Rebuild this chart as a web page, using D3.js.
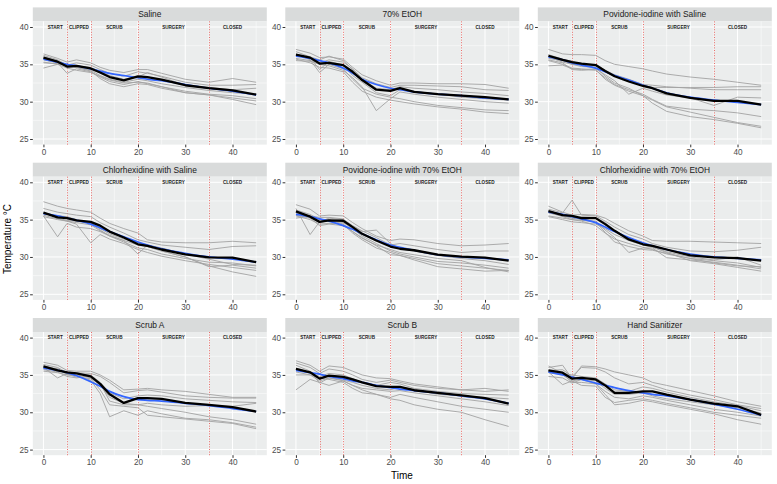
<!DOCTYPE html>
<html><head><meta charset="utf-8">
<script src="https://cdn.jsdelivr.net/npm/d3@7"></script>
<style>body{margin:0;background:#fff}svg{display:block;font-family:"Liberation Sans",Arial,sans-serif}</style>
</head><body><svg id="c" width="777" height="484"></svg>
<script>
// ---------- data ----------
const panelTitles = ["Saline","70% EtOH","Povidone-iodine with Saline",
  "Chlorhexidine with Saline","Povidone-iodine with 70% EtOH","Chlorhexidine with 70% EtOH",
  "Scrub A","Scrub B","Hand Sanitizer"];
const times = [0,3,5,7,10,12,14,17,20,22,25,30,35,40,45];
const xTicks = [0,10,20,30,40];
const yTicks = [25,30,35,40];
const phaseBreaks = [5,10,20,35];
const phaseNames = ["START","CLIPPED","SCRUB","SURGERY","CLOSED"];
const phaseCenters = [2.5,7.5,15,27.5,40];

const salineMean   = [35.9,35.35,34.7,34.8,34.45,33.9,33.3,32.85,33.4,33.3,32.95,32.2,31.8,31.5,30.95];
const salineSmooth = [35.7,35.3,35.0,34.8,34.4,34.1,33.8,33.5,33.2,33.0,32.8,32.3,31.8,31.4,30.9];
const salineSubjects = [
 [36.4,35.8,35.3,35.6,35.2,34.6,34.2,33.9,34.3,34.3,33.8,33.0,32.6,33.1,32.6],
 [36.2,35.6,34.9,35.2,34.9,34.3,33.8,33.4,34.0,33.8,33.4,32.6,32.2,32.2,32.3],
 [35.2,35.1,34.8,34.8,34.6,34.0,33.5,33.0,33.3,33.9,33.3,32.2,31.9,31.6,31.8],
 [34.5,35.0,34.9,34.6,34.2,33.5,33.0,32.6,33.0,32.8,32.4,31.9,31.5,31.2,31.0],
 [35.6,35.2,33.8,34.4,34.0,33.3,32.7,32.3,32.7,32.4,32.0,31.4,31.0,30.8,30.4],
 [36.0,35.4,34.6,34.6,34.1,33.1,32.4,32.0,32.4,32.3,31.8,31.2,30.9,30.5,30.1],
 [35.3,35.0,34.5,34.2,33.9,33.4,32.9,32.5,32.6,32.5,32.0,31.2,30.9,30.3,29.6]];

const etohMean   = [36.3,35.9,35.1,35.2,34.9,34.0,32.9,31.6,31.45,31.8,31.3,31.0,30.8,30.6,30.3];
const etohSmooth = [36.1,35.8,35.5,35.2,34.5,33.8,33.0,32.3,31.8,31.6,31.3,31.0,30.8,30.5,30.3];
const etohSubjects = [
 [37.0,36.5,35.9,36.0,35.7,34.6,33.6,32.8,32.2,32.5,32.5,32.4,32.4,32.3,31.8],
 [36.7,36.0,35.6,36.1,35.5,34.3,33.2,32.4,31.9,32.2,32.2,32.1,32.0,31.6,31.5],
 [35.8,35.5,35.2,35.6,35.3,34.4,33.0,31.8,31.6,32.0,31.8,31.6,31.3,31.1,30.8],
 [36.3,35.9,34.3,35.4,34.9,33.5,32.6,31.2,30.8,31.6,31.4,31.0,30.6,30.4,30.2],
 [35.5,35.4,35.0,34.8,34.2,33.2,32.0,28.8,30.4,31.3,31.0,30.6,30.3,30.0,29.8],
 [36.4,35.6,33.9,35.0,34.4,33.0,31.8,31.0,30.6,30.4,30.0,29.5,29.2,28.9,28.8],
 [35.7,35.2,34.6,34.5,34.0,32.6,31.4,30.6,30.2,30.0,29.7,29.3,29.0,28.6,28.4]];

const pviSalMean   = [36.15,35.6,35.3,35.1,34.9,34.1,33.4,32.7,32.1,31.8,31.1,30.5,30.1,30.1,29.6];
const pviSalSmooth = [36.0,35.6,35.2,34.9,34.5,34.0,33.5,32.9,32.2,31.8,31.2,30.6,30.2,29.9,29.6];
const pviSalSubjects = [
 [37.0,36.4,36.3,36.3,36.2,35.5,35.0,34.7,34.4,34.1,33.7,33.3,33.0,32.6,32.2],
 [36.3,35.7,35.4,35.0,34.8,34.0,33.5,32.9,32.2,31.9,31.9,31.9,31.9,32.0,32.0],
 [35.8,35.5,35.0,35.0,35.0,34.2,33.6,33.0,32.3,32.2,32.0,31.8,31.6,31.6,31.6],
 [34.8,34.9,34.4,34.3,34.4,33.6,32.8,31.0,31.8,31.4,30.9,30.5,29.5,30.6,30.5],
 [35.5,35.0,34.5,34.4,34.2,33.2,32.3,31.6,31.0,30.3,29.4,29.0,28.8,28.5,28.0],
 [36.0,35.3,35.0,34.7,34.6,33.4,32.5,31.8,30.8,29.8,28.7,28.0,27.6,27.1,26.5],
 [35.6,35.2,34.3,34.2,34.3,33.0,32.2,31.4,30.8,30.2,29.3,28.6,27.9,27.2,26.7]];

const chxSalMean   = [35.95,35.3,35.2,34.9,34.7,34.2,33.4,32.6,31.7,31.5,31.0,30.35,29.95,29.9,29.3];
const chxSalSmooth = [35.8,35.5,35.2,34.9,34.4,33.9,33.4,32.7,32.0,31.6,31.1,30.5,30.0,29.7,29.3];
const chxSalSubjects = [
 [37.4,36.8,36.5,36.3,36.0,35.2,34.5,33.8,33.2,32.3,32.0,31.9,31.9,32.1,31.9],
 [36.5,36.0,35.8,35.6,35.4,34.6,34.0,33.2,32.3,32.0,31.6,31.3,31.0,31.4,31.5],
 [35.5,32.7,34.5,34.0,33.8,33.4,32.8,32.0,31.2,31.0,30.4,29.8,29.3,29.2,28.8],
 [35.8,35.5,35.4,35.0,34.5,33.6,32.8,32.2,31.6,31.4,30.8,30.0,28.7,28.9,28.5],
 [35.4,35.0,34.8,34.4,31.9,33.0,32.4,31.8,31.0,30.6,30.1,29.5,29.0,28.6,28.2],
 [36.0,35.2,34.9,34.8,34.6,33.8,33.1,32.4,31.9,31.4,30.8,30.0,28.8,28.0,27.4],
 [35.6,35.1,34.8,34.6,34.3,33.5,32.9,32.2,30.4,31.6,31.2,30.4,29.7,29.0,28.9]];

const pviEtohMean   = [36.1,35.4,34.7,34.9,34.85,34.0,33.1,32.2,31.4,31.1,30.9,30.3,30.05,29.9,29.5];
const pviEtohSmooth = [35.7,35.4,35.1,34.8,34.2,33.7,33.1,32.3,31.6,31.3,30.9,30.3,30.0,29.8,29.6];
const pviEtohSubjects = [
 [37.0,36.4,35.5,35.6,35.5,34.6,33.8,32.8,32.2,32.4,32.3,31.8,31.5,31.6,31.8],
 [36.5,33.0,34.7,35.2,35.0,34.2,33.5,32.6,31.6,31.8,31.5,31.0,30.6,30.8,30.8],
 [35.2,35.5,35.3,35.3,35.1,34.1,33.4,33.6,31.8,31.1,30.8,30.2,29.8,29.5,29.0],
 [35.9,35.3,34.6,34.9,34.6,33.8,32.8,31.8,30.8,30.4,30.0,29.4,29.2,28.9,28.5],
 [35.5,35.0,34.4,34.5,34.4,33.4,32.6,31.5,30.3,30.2,29.8,29.1,28.8,28.5,28.2],
 [36.3,35.7,35.0,35.0,34.4,33.2,32.3,31.2,30.6,30.2,29.6,28.7,28.4,28.1,28.2],
 [35.6,35.2,34.2,34.4,34.2,33.4,32.5,31.6,31.0,30.6,30.3,29.8,29.5,28.6,28.0]];

const chxEtohMean   = [36.15,35.6,35.5,35.2,35.2,34.4,33.5,32.35,31.7,31.5,31.0,30.2,29.95,29.85,29.5];
const chxEtohSmooth = [36.0,35.7,35.4,35.1,34.6,34.0,33.4,32.6,31.9,31.5,31.0,30.4,30.0,29.8,29.6];
const chxEtohSubjects = [
 [36.8,36.0,35.6,35.7,35.6,35.2,34.5,33.5,32.8,32.2,32.1,32.1,32.0,31.9,31.8],
 [36.4,35.9,37.6,35.6,35.5,34.8,34.0,33.0,32.4,31.8,31.3,30.8,30.7,30.9,31.3],
 [35.9,35.5,35.2,35.4,35.3,34.6,33.6,32.4,31.6,31.4,30.7,30.0,29.6,30.0,28.9],
 [35.5,35.2,35.0,34.9,34.7,33.3,32.0,31.4,31.0,30.9,30.5,29.8,29.5,29.2,28.6],
 [36.2,35.6,35.2,35.0,34.8,33.6,32.6,30.6,31.2,31.2,29.9,29.6,29.3,28.9,28.4],
 [35.4,35.0,34.7,34.6,34.4,33.8,33.0,32.2,31.6,31.3,30.6,29.5,29.1,28.6,28.1],
 [36.0,35.4,35.0,34.8,34.2,33.2,32.4,31.8,31.3,31.0,30.4,29.8,29.2,28.8,28.7]];

const scrubAMean   = [36.15,35.6,35.35,35.2,34.8,33.8,32.4,31.25,31.9,31.9,31.8,31.25,31.0,30.7,30.1];
const scrubASmooth = [35.9,35.6,35.3,34.9,34.1,33.5,32.8,32.1,31.7,31.6,31.5,31.2,30.9,30.5,30.1];
const scrubASubjects = [
 [36.7,36.3,35.6,35.5,35.5,35.0,34.3,33.0,33.1,33.2,33.0,32.8,32.4,32.0,32.0],
 [36.4,36.0,35.3,35.3,35.2,34.8,34.0,32.6,32.9,33.0,32.7,32.2,32.0,31.9,31.9],
 [35.8,35.9,35.0,35.2,35.0,34.0,32.6,31.8,32.2,32.3,32.2,31.8,31.6,31.4,31.3],
 [36.0,34.6,35.2,35.0,34.6,33.6,32.0,31.2,31.0,30.8,30.5,30.0,29.4,29.0,28.4],
 [35.5,35.3,35.0,34.9,34.3,32.5,29.4,30.2,29.6,30.2,29.8,29.2,29.0,28.6,28.0],
 [36.2,35.8,35.1,34.7,34.5,33.0,31.0,30.8,30.6,29.6,29.4,29.1,28.8,28.5,27.8],
 [35.7,35.4,34.8,34.6,34.9,33.9,31.5,31.0,31.0,31.2,31.0,30.8,30.9,30.8,31.2]];

const scrubBMean   = [35.8,35.35,34.5,34.9,34.75,34.4,34.0,33.5,33.4,33.4,32.95,32.6,32.25,31.9,31.15];
const scrubBSmooth = [35.6,35.3,35.1,34.8,34.5,34.2,34.0,33.6,33.3,33.1,32.9,32.6,32.2,31.8,31.2];
const scrubBSubjects = [
 [36.9,36.3,35.5,36.2,36.0,35.5,35.0,34.6,34.5,34.2,33.8,33.4,33.0,33.2,32.8],
 [36.6,36.0,35.2,35.8,35.5,35.0,34.4,34.0,34.3,34.0,33.6,33.2,33.0,32.8,33.0],
 [35.9,35.3,34.8,35.2,35.0,34.5,34.0,33.6,34.0,33.8,33.2,32.8,32.5,32.4,32.3],
 [35.0,35.0,34.2,34.6,34.3,34.0,33.6,33.2,33.0,33.4,33.0,32.4,32.2,32.0,31.8],
 [33.0,34.4,34.0,33.6,34.2,33.6,33.2,33.0,32.8,32.9,32.6,32.2,31.8,31.4,30.9],
 [35.4,35.0,34.6,34.4,34.0,33.2,32.6,32.4,32.0,32.4,32.0,31.4,30.8,30.4,30.0],
 [36.3,35.5,33.9,34.6,34.2,33.6,33.0,32.4,31.8,31.6,31.0,30.4,30.0,29.0,28.1]];

const handMean   = [35.6,35.3,34.5,34.6,34.4,33.6,32.6,32.6,32.8,32.8,32.35,31.7,31.15,30.8,29.65];
const handSmooth = [35.4,35.0,34.7,34.4,33.9,33.6,33.3,32.9,32.6,32.4,32.2,31.7,31.1,30.4,29.6];
const handSubjects = [
 [36.0,36.3,34.5,36.2,36.1,35.8,35.4,35.0,34.6,34.0,33.6,32.9,32.2,31.4,30.8],
 [35.6,35.7,34.8,36.0,35.9,35.4,34.6,33.8,34.0,33.6,33.0,32.3,31.7,31.0,30.5],
 [36.2,35.2,35.0,34.8,34.6,33.8,33.0,32.8,33.4,33.2,32.7,32.0,31.4,30.9,30.2],
 [34.8,34.6,33.9,34.4,34.2,33.2,32.4,32.4,32.6,32.2,31.8,31.4,31.0,30.6,29.9],
 [35.4,33.7,34.2,34.4,33.8,32.8,32.0,31.8,32.2,32.0,31.6,31.0,30.4,30.0,29.5],
 [35.3,35.0,34.2,33.6,33.5,32.0,31.3,31.6,31.8,31.6,31.2,30.6,30.0,29.6,29.2],
 [35.5,35.1,34.0,34.0,33.8,32.4,31.0,31.2,31.6,31.4,31.0,30.4,29.8,29.0,28.4]];

const meanSeries   = [salineMean,etohMean,pviSalMean,chxSalMean,pviEtohMean,chxEtohMean,scrubAMean,scrubBMean,handMean];
const smoothSeries = [salineSmooth,etohSmooth,pviSalSmooth,chxSalSmooth,pviEtohSmooth,chxEtohSmooth,scrubASmooth,scrubBSmooth,handSmooth];
const subjectSeries= [salineSubjects,etohSubjects,pviSalSubjects,chxSalSubjects,pviEtohSubjects,chxEtohSubjects,scrubASubjects,scrubBSubjects,handSubjects];

// ---------- layout ----------
const svg = d3.select("#c");
svg.append("rect").attr("width",777).attr("height",484).attr("fill","#fff");
const colLeft0 = 32.8, colStep = 252.5, panelW = 234;
const rowTop0 = 21.4, rowStep = 155.3, panelH = 123.2, stripH = 14;
const snap = v => Math.round(v) + 0.5;

panelTitles.forEach((title, i) => {
  const c = i % 3, r = Math.floor(i / 3);
  const left = colLeft0 + c * colStep, top = rowTop0 + r * rowStep;
  const x = d3.scaleLinear().domain([-2.25, 47.25]).range([left, left + panelW]);
  const y = d3.scaleLinear().domain([24.25, 40.75]).range([top + panelH, top]);
  const g = svg.append("g");

  // strip
  g.append("rect").attr("x", left).attr("y", top - stripH).attr("width", panelW).attr("height", stripH).attr("fill", "#D9DBDB");
  g.append("text").attr("x", left + panelW / 2).attr("y", top - stripH / 2 + 3).attr("text-anchor", "middle")
    .attr("font-size", 8.4).attr("fill", "#1A1A1A").text(title);

  // panel
  g.append("rect").attr("x", left).attr("y", top).attr("width", panelW).attr("height", panelH).attr("fill", "#EBEDED");
  const minorX = [5,15,25,35,45], minorY = [27.5,32.5,37.5];
  g.selectAll(null).data(minorX).join("line").attr("x1", d => x(d)).attr("x2", d => x(d)).attr("y1", top).attr("y2", top + panelH).attr("stroke", "#fff").attr("stroke-width", 0.5);
  g.selectAll(null).data(minorY).join("line").attr("y1", d => y(d)).attr("y2", d => y(d)).attr("x1", left).attr("x2", left + panelW).attr("stroke", "#fff").attr("stroke-width", 0.5);
  g.selectAll(null).data(xTicks).join("line").attr("x1", d => x(d)).attr("x2", d => x(d)).attr("y1", top).attr("y2", top + panelH).attr("stroke", "#fff").attr("stroke-width", 1);
  g.selectAll(null).data(yTicks).join("line").attr("y1", d => y(d)).attr("y2", d => y(d)).attr("x1", left).attr("x2", left + panelW).attr("stroke", "#fff").attr("stroke-width", 1);

  // phase breaks
  g.selectAll(null).data(phaseBreaks).join("line").attr("x1", d => snap(x(d))).attr("x2", d => snap(x(d)))
    .attr("y1", top).attr("y2", top + panelH).attr("stroke", "#E8605C").attr("stroke-opacity", 0.9)
    .attr("stroke-width", 1).attr("stroke-dasharray", "1,1.6");
  g.selectAll(null).data(phaseNames).join("text").attr("x", (d, k) => x(phaseCenters[k])).attr("y", y(40) + 1.6)
    .attr("text-anchor", "middle").attr("font-size", 4.6).attr("font-weight", "bold").attr("fill", "#222").text(d => d);

  const line = d3.line().x((d, k) => x(times[k])).y(d => y(d));
  subjectSeries[i].forEach(s => {
    g.append("path").attr("d", line(s)).attr("fill", "none").attr("stroke", "#A3A3A3").attr("stroke-width", 0.9);
  });
  const smoothLine = d3.line().x((d, k) => x(times[k])).y(d => y(d)).curve(d3.curveMonotoneX);
  g.append("path").attr("d", smoothLine(smoothSeries[i])).attr("fill", "none").attr("stroke", "#3366FF").attr("stroke-width", 1.7);
  g.append("path").attr("d", line(meanSeries[i])).attr("fill", "none").attr("stroke", "#000").attr("stroke-width", 2.3).attr("stroke-linejoin", "round");

  // axes
  const ax = g.append("g").attr("transform", `translate(0,${top + panelH})`)
    .call(d3.axisBottom(x).tickValues(xTicks).tickSize(2.7).tickPadding(1.5));
  const ay = g.append("g").attr("transform", `translate(${left},0)`)
    .call(d3.axisLeft(y).tickValues(yTicks).tickSize(2.7).tickPadding(1.5));
  [ax, ay].forEach(a => {
    a.select(".domain").remove();
    a.selectAll("line").attr("stroke", "#333");
    a.selectAll("text").attr("fill", "#4D4D4D").attr("font-size", 8.2).attr("font-family", '"Liberation Sans",Arial,sans-serif');
  });
});

svg.append("text").attr("x", 402).attr("y", 479).attr("text-anchor", "middle").attr("font-size", 10).attr("fill", "#000").text("Time");
svg.append("text").attr("transform", "translate(11,239) rotate(-90)").attr("text-anchor", "middle").attr("font-size", 10).attr("fill", "#000").text("Temperature °C");
</script></body></html>
